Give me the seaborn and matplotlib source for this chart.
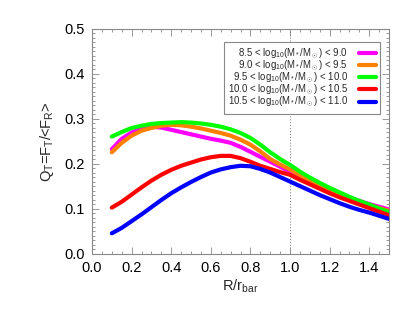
import numpy as np
import pandas as pd
import matplotlib
matplotlib.use('Agg')
import matplotlib.pyplot as plt
import seaborn as sns
from matplotlib.ticker import MultipleLocator, FormatStrFormatter

# radius in units of bar length
r = [0.10, 0.15, 0.20, 0.25, 0.30, 0.35, 0.40, 0.45, 0.50, 0.55, 0.60, 0.65, 0.70, 0.75, 0.80,
     0.85, 0.90, 0.95, 1.00, 1.05, 1.10, 1.15, 1.20, 1.25, 1.30, 1.35, 1.40, 1.45, 1.50]

# Q_T profiles per stellar mass bin
q_85_90 = [0.233, 0.256, 0.270, 0.279, 0.283, 0.281, 0.276, 0.271, 0.266, 0.261, 0.256, 0.252, 0.247, 0.238, 0.227,
           0.216, 0.205, 0.194, 0.183, 0.171, 0.160, 0.150, 0.141, 0.133, 0.125, 0.118, 0.111, 0.105, 0.099]
q_90_95 = [0.226, 0.247, 0.263, 0.274, 0.280, 0.285, 0.287, 0.286, 0.283, 0.279, 0.274, 0.269, 0.263, 0.254, 0.243,
           0.228, 0.211, 0.199, 0.188, 0.175, 0.162, 0.151, 0.141, 0.132, 0.124, 0.116, 0.109, 0.102, 0.096]
q_95_100 = [0.261, 0.271, 0.280, 0.285, 0.289, 0.291, 0.292, 0.293, 0.292, 0.290, 0.287, 0.283, 0.277, 0.269, 0.258,
            0.243, 0.226, 0.211, 0.198, 0.183, 0.170, 0.158, 0.147, 0.137, 0.127, 0.118, 0.110, 0.101, 0.093]
q_100_105 = [0.103, 0.116, 0.132, 0.148, 0.163, 0.176, 0.187, 0.196, 0.203, 0.210, 0.215, 0.218, 0.218, 0.213, 0.205,
             0.196, 0.189, 0.182, 0.176, 0.165, 0.155, 0.145, 0.135, 0.126, 0.118, 0.110, 0.102, 0.094, 0.086]
q_105_110 = [0.046, 0.058, 0.073, 0.088, 0.104, 0.120, 0.135, 0.148, 0.160, 0.171, 0.181, 0.188, 0.193, 0.196, 0.195,
             0.189, 0.181, 0.171, 0.161, 0.151, 0.141, 0.131, 0.122, 0.113, 0.105, 0.098, 0.092, 0.085, 0.078]

mass_bins = ['  8.5 < log$_{10}$(M$_*$/M$_\\odot$) < 9.0',
             '  9.0 < log$_{10}$(M$_*$/M$_\\odot$) < 9.5',
             '  9.5 < log$_{10}$(M$_*$/M$_\\odot$) < 10.0',
             '10.0 < log$_{10}$(M$_*$/M$_\\odot$) < 10.5',
             '10.5 < log$_{10}$(M$_*$/M$_\\odot$) < 11.0']
colors = ['#ff00ff', '#ff8000', '#00ff00', '#ff0000', '#0000ff']
profiles = [q_85_90, q_90_95, q_95_100, q_100_105, q_105_110]

sns.set_style('ticks')
plt.rcParams['font.family'] = ['Liberation Sans', 'DejaVu Sans']
plt.rcParams['mathtext.fontset'] = 'custom'
plt.rcParams['mathtext.rm'] = 'Liberation Sans'
plt.rcParams['mathtext.it'] = 'Liberation Sans'
plt.rcParams['mathtext.bf'] = 'Liberation Sans:bold'

df = pd.concat([pd.DataFrame({'R': r, 'Q': q, 'bin': b}) for q, b in zip(profiles, mass_bins)])

fig = plt.figure(figsize=(4.15, 3.12), dpi=100)
ax = fig.add_axes([0.2217, 0.1859, 0.7157, 0.7212])

ax.axvline(1.0, color='#777777', ls=(0, (1, 2)), lw=0.7, zorder=1)
sns.lineplot(data=df, x='R', y='Q', hue='bin', palette=dict(zip(mass_bins, colors)),
             lw=3, ax=ax, sort=False, legend=False)

handles = [plt.Line2D([], [], color=c, lw=3) for c in colors]
leg = ax.legend(handles, mass_bins, loc='upper right', bbox_to_anchor=(0.97, 0.942),
                borderaxespad=0, fontsize=6.9, markerfirst=False, handlelength=1.8,
                handletextpad=1.1, labelspacing=-0.22, fancybox=False, framealpha=1,
                edgecolor='#888888', borderpad=0.45)
leg.get_frame().set_linewidth(0.8)

ax.set_xlim(0, 1.5)
ax.set_ylim(0, 0.5)
ax.xaxis.set_major_locator(MultipleLocator(0.2))
ax.xaxis.set_minor_locator(MultipleLocator(0.05))
ax.yaxis.set_major_locator(MultipleLocator(0.1))
ax.yaxis.set_minor_locator(MultipleLocator(0.01))
ax.xaxis.set_major_formatter(FormatStrFormatter('%.1f'))
ax.yaxis.set_major_formatter(FormatStrFormatter('%.1f'))
ax.tick_params(which='both', direction='in', top=True, right=True, colors='#888888',
               labelcolor='black', labelsize=10.5, width=0.6)
ax.tick_params(which='major', length=5, pad=5)
ax.tick_params(which='minor', length=2.5)
for s in ax.spines.values():
    s.set_color('#888888')
    s.set_linewidth(0.8)

ax.set_xlabel('R/r$_{\\rm bar}$', fontsize=10.5, labelpad=2)
ax.set_ylabel('Q$_T$=F$_T$/<F$_R$>', fontsize=10.5, labelpad=6)

fig.savefig('out.png', dpi=100)
